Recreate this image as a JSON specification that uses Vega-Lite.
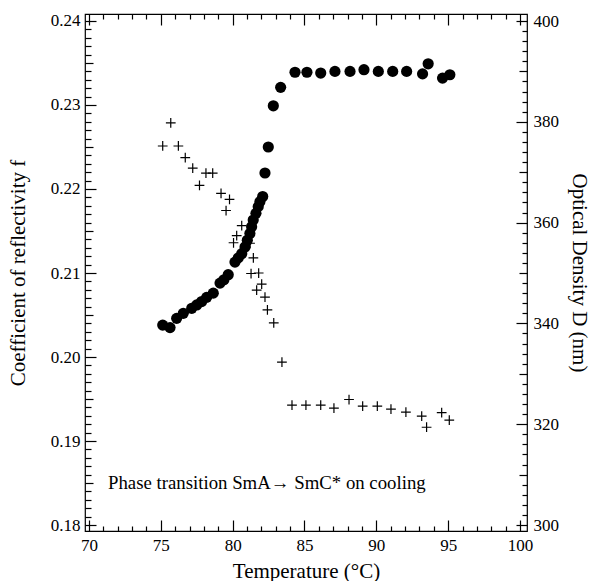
{
  "$schema": "https://vega.github.io/schema/vega-lite/v6.json",
  "width": 442,
  "height": 517,
  "autosize": {"type": "none"},
  "padding": {"left": 85, "top": 14, "right": 63, "bottom": 50},
  "background": "white",
  "config": {
    "view": {"stroke": "#000", "strokeWidth": 1.2},
    "font": "Liberation Serif",
    "axis": {
      "grid": false,
      "domain": false,
      "tickColor": "#000",
      "tickWidth": 1.2,
      "labelColor": "#000",
      "labelFont": "Liberation Serif",
      "labelFontSize": 17,
      "titleFont": "Liberation Serif",
      "titleFontSize": 21,
      "titleFontWeight": "normal",
      "titleColor": "#000"
    }
  },
  "datasets": {
    "circles": [
      {"T": 75.13, "f": 0.2038}, {"T": 75.64, "f": 0.2035}, {"T": 76.10, "f": 0.2046}, {"T": 76.56, "f": 0.2052},
      {"T": 77.15, "f": 0.2058}, {"T": 77.50, "f": 0.2062}, {"T": 77.84, "f": 0.2066}, {"T": 78.19, "f": 0.2071},
      {"T": 78.65, "f": 0.2076}, {"T": 79.12, "f": 0.2088}, {"T": 79.39, "f": 0.2092}, {"T": 79.69, "f": 0.2098},
      {"T": 80.16, "f": 0.2113}, {"T": 80.39, "f": 0.2118}, {"T": 80.63, "f": 0.2123}, {"T": 80.86, "f": 0.2131},
      {"T": 81.02, "f": 0.2139}, {"T": 81.20, "f": 0.2147}, {"T": 81.32, "f": 0.2155}, {"T": 81.43, "f": 0.2163},
      {"T": 81.62, "f": 0.2171}, {"T": 81.78, "f": 0.2179}, {"T": 81.90, "f": 0.2185}, {"T": 82.09, "f": 0.2191},
      {"T": 82.25, "f": 0.2219}, {"T": 82.48, "f": 0.2250}, {"T": 82.83, "f": 0.2299}, {"T": 83.34, "f": 0.2321},
      {"T": 84.34, "f": 0.2339}, {"T": 85.17, "f": 0.2339}, {"T": 86.13, "f": 0.2338}, {"T": 87.12, "f": 0.2340},
      {"T": 88.17, "f": 0.2340}, {"T": 89.14, "f": 0.2342}, {"T": 90.14, "f": 0.2340}, {"T": 91.14, "f": 0.2340},
      {"T": 92.11, "f": 0.2340}, {"T": 93.22, "f": 0.2337}, {"T": 93.61, "f": 0.2349}, {"T": 94.61, "f": 0.2332},
      {"T": 95.12, "f": 0.2336}
    ],
    "pluses": [
      {"T": 75.13, "D": 375.2}, {"T": 75.69, "D": 379.8}, {"T": 76.22, "D": 375.2}, {"T": 76.70, "D": 372.9},
      {"T": 77.22, "D": 370.8}, {"T": 77.69, "D": 367.4}, {"T": 78.14, "D": 369.8}, {"T": 78.61, "D": 369.8},
      {"T": 79.19, "D": 365.8}, {"T": 79.78, "D": 364.6}, {"T": 79.54, "D": 362.4}, {"T": 80.63, "D": 359.4},
      {"T": 80.28, "D": 357.4}, {"T": 80.06, "D": 356.0}, {"T": 81.21, "D": 355.9}, {"T": 81.44, "D": 353.0},
      {"T": 81.28, "D": 349.9}, {"T": 81.81, "D": 350.0}, {"T": 82.02, "D": 347.8}, {"T": 81.67, "D": 346.6},
      {"T": 82.25, "D": 345.2}, {"T": 82.42, "D": 342.7}, {"T": 82.86, "D": 340.1}, {"T": 83.43, "D": 332.3},
      {"T": 84.13, "D": 323.8}, {"T": 85.10, "D": 323.8}, {"T": 86.13, "D": 323.8}, {"T": 87.05, "D": 323.2},
      {"T": 88.10, "D": 324.9}, {"T": 89.05, "D": 323.6}, {"T": 90.07, "D": 323.6}, {"T": 91.02, "D": 323.0},
      {"T": 92.06, "D": 322.4}, {"T": 93.16, "D": 321.6}, {"T": 93.50, "D": 319.4}, {"T": 94.55, "D": 322.3},
      {"T": 95.08, "D": 320.8}
    ],
    "notes": [
      {"T": 71.32, "f": 0.1850, "label": "Phase transition SmA→ SmC* on cooling"}
    ]
  },
  "resolve": {
    "scale": {"y": "independent"},
    "axis": {"x": "independent", "y": "independent"}
  },
  "layer": [
    {
      "data": {"name": "circles"},
      "mark": {"type": "point", "shape": "circle", "filled": true, "color": "#000", "opacity": 1, "size": 125},
      "encoding": {
        "x": {"field": "T", "type": "quantitative", "scale": {"domain": [69.72, 100.49], "nice": false, "zero": false},
          "axis": {"orient": "bottom", "values": [70, 75, 80, 85, 90, 95, 100], "tickSize": -11, "labelPadding": 17,
            "title": "Temperature (°C)", "titleY": 46, "titleBaseline": "alphabetic"}},
        "y": {"field": "f", "type": "quantitative", "scale": {"domain": [0.17929, 0.24083], "nice": false, "zero": false},
          "axis": {"orient": "left", "values": [0.18, 0.19, 0.2, 0.21, 0.22, 0.23, 0.24], "format": ".2f", "tickSize": -11, "labelPadding": 16,
            "title": "Coefficient of reflectivity f", "titleX": -61, "titleBaseline": "alphabetic", "titleAngle": -90}}
      }
    },
    {
      "data": {"name": "pluses"},
      "mark": {"type": "point", "shape": "M-1,0L1,0M0,-1L0,1", "filled": false, "stroke": "#000", "strokeWidth": 1.2, "opacity": 1, "size": 95},
      "encoding": {
        "x": {"field": "T", "type": "quantitative", "scale": {"domain": [69.72, 100.49], "nice": false, "zero": false},
          "axis": {"orient": "top", "values": [70, 75, 80, 85, 90, 95, 100], "tickSize": -11, "labels": false, "title": null}},
        "y": {"field": "D", "type": "quantitative", "scale": {"domain": [298.81, 401.39], "nice": false, "zero": false},
          "axis": {"orient": "right", "values": [300, 320, 340, 360, 380, 400], "tickSize": -11, "labelPadding": 17,
            "title": "Optical Density D (nm)", "titleX": 45, "titleBaseline": "alphabetic", "titleAngle": 90}}
      }
    },
    {
      "data": {"name": "circles"},
      "mark": {"type": "point", "opacity": 0},
      "encoding": {
        "x": {"field": "T", "type": "quantitative", "scale": {"domain": [69.72, 100.49], "nice": false, "zero": false},
          "axis": {"orient": "bottom", "values": [71, 72, 73, 74, 76, 77, 78, 79, 81, 82, 83, 84, 86, 87, 88, 89, 91, 92, 93, 94, 96, 97, 98, 99], "tickSize": -5, "labels": false, "title": null}},
        "y": {"field": "f", "type": "quantitative", "scale": {"domain": [0.17929, 0.24083], "nice": false, "zero": false},
          "axis": {"orient": "left", "values": [0.181, 0.182, 0.183, 0.184, 0.186, 0.187, 0.188, 0.189, 0.191, 0.192, 0.193, 0.194, 0.196, 0.197, 0.198, 0.199, 0.201, 0.202, 0.203, 0.204, 0.206, 0.207, 0.208, 0.209, 0.211, 0.212, 0.213, 0.214, 0.216, 0.217, 0.218, 0.219, 0.221, 0.222, 0.223, 0.224, 0.226, 0.227, 0.228, 0.229, 0.231, 0.232, 0.233, 0.234, 0.236, 0.237, 0.238, 0.239], "tickSize": -6, "labels": false, "title": null}}
      }
    },
    {
      "data": {"name": "pluses"},
      "mark": {"type": "point", "opacity": 0},
      "encoding": {
        "x": {"field": "T", "type": "quantitative", "scale": {"domain": [69.72, 100.49], "nice": false, "zero": false},
          "axis": {"orient": "top", "values": [71, 72, 73, 74, 76, 77, 78, 79, 81, 82, 83, 84, 86, 87, 88, 89, 91, 92, 93, 94, 96, 97, 98, 99], "tickSize": -5, "labels": false, "title": null}},
        "y": {"field": "D", "type": "quantitative", "scale": {"domain": [298.81, 401.39], "nice": false, "zero": false},
          "axis": {"orient": "right", "values": [302, 304, 306, 308, 312, 314, 316, 318, 322, 324, 326, 328, 332, 334, 336, 338, 342, 344, 346, 348, 352, 354, 356, 358, 362, 364, 366, 368, 372, 374, 376, 378, 382, 384, 386, 388, 392, 394, 396, 398], "tickSize": -5, "labels": false, "title": null}}
      }
    },
    {
      "data": {"name": "circles"},
      "mark": {"type": "point", "opacity": 0},
      "encoding": {
        "x": {"field": "T", "type": "quantitative", "scale": {"domain": [69.72, 100.49], "nice": false, "zero": false}, "axis": null},
        "y": {"field": "f", "type": "quantitative", "scale": {"domain": [0.17929, 0.24083], "nice": false, "zero": false},
          "axis": {"orient": "left", "values": [0.185, 0.195, 0.205, 0.215, 0.225, 0.235], "tickSize": -8, "labels": false, "title": null}}
      }
    },
    {
      "data": {"name": "pluses"},
      "mark": {"type": "point", "opacity": 0},
      "encoding": {
        "x": {"field": "T", "type": "quantitative", "scale": {"domain": [69.72, 100.49], "nice": false, "zero": false}, "axis": null},
        "y": {"field": "D", "type": "quantitative", "scale": {"domain": [298.81, 401.39], "nice": false, "zero": false},
          "axis": {"orient": "right", "values": [310, 330, 350, 370, 390], "tickSize": -8, "labels": false, "title": null}}
      }
    },
    {
      "data": {"name": "notes"},
      "mark": {"type": "text", "align": "left", "baseline": "middle", "font": "Liberation Serif", "fontSize": 18.8, "color": "#000"},
      "encoding": {
        "x": {"field": "T", "type": "quantitative", "scale": {"domain": [69.72, 100.49], "nice": false, "zero": false}, "axis": null},
        "y": {"field": "f", "type": "quantitative", "scale": {"domain": [0.17929, 0.24083], "nice": false, "zero": false}, "axis": null},
        "text": {"field": "label"}
      }
    }
  ]
}
